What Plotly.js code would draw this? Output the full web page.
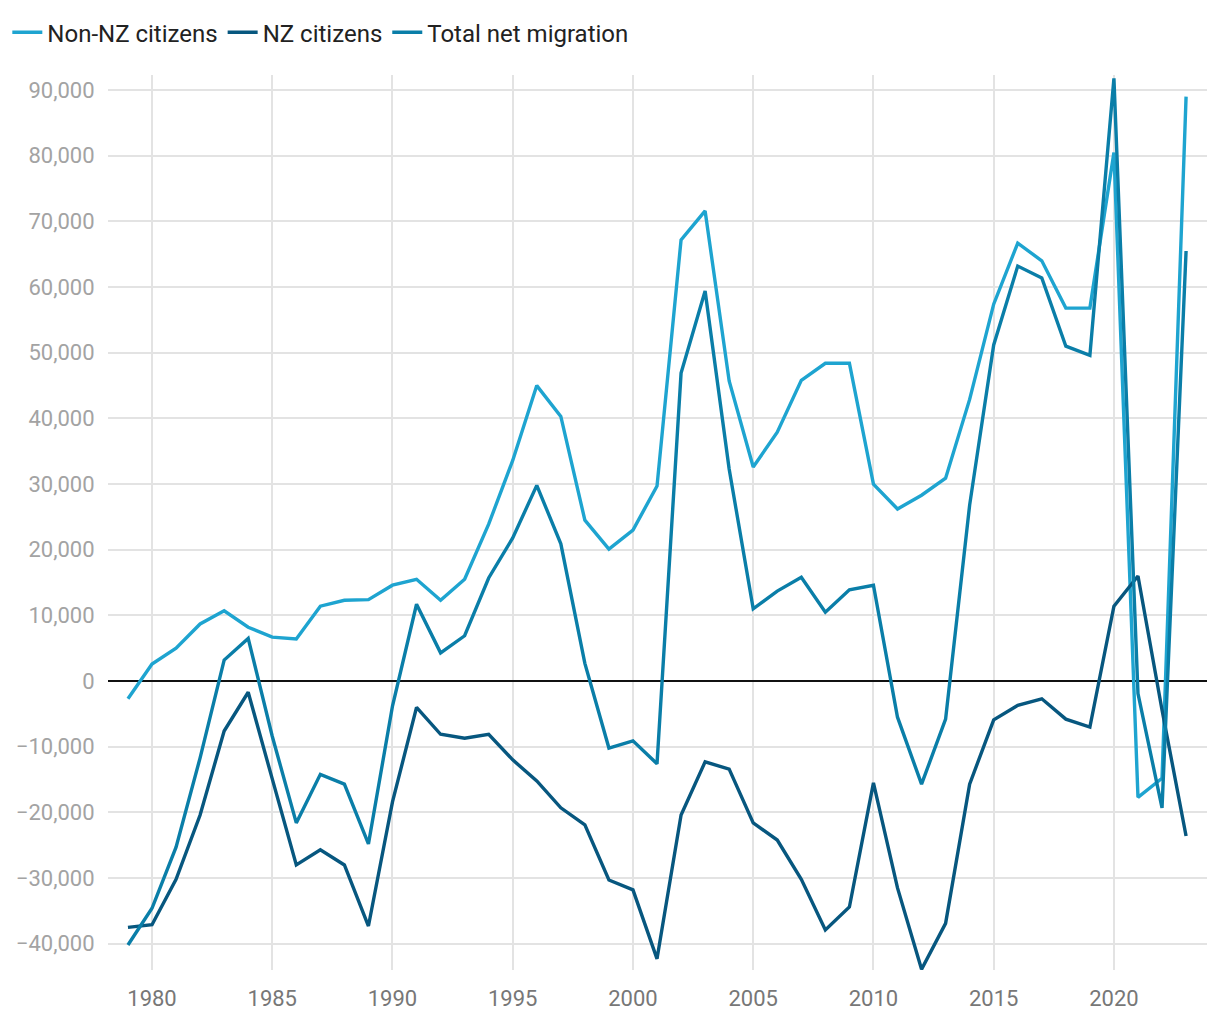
<!DOCTYPE html>
<html>
<head>
<meta charset="utf-8">
<script src="https://cdn.plot.ly/plotly-3.0.1.min.js"></script>
<style>html,body{margin:0;padding:0;background:#fff;}#chart{width:1220px;height:1020px;}</style>
</head>
<body>
<div id="chart"></div>
<script>
const years = [1979,1980,1981,1982,1983,1984,1985,1986,1987,1988,1989,1990,1991,1992,1993,1994,1995,1996,1997,1998,1999,2000,2001,2002,2003,2004,2005,2006,2007,2008,2009,2010,2011,2012,2013,2014,2015,2016,2017,2018,2019,2020,2021,2022,2023];

const nonNZ = [-2700,2600,5000,8700,10700,8200,6700,6400,11400,12300,12400,14600,15500,12300,15500,23900,33600,45000,40300,24500,20100,23000,29700,67200,71600,45700,32600,37900,45800,48400,48400,30000,26200,28300,30900,42900,57400,66700,64000,56800,56800,80500,-17700,-14800,89000];

const nzCitizens = [-37500,-37100,-30200,-20400,-7600,-1700,-14900,-28000,-25700,-28000,-37300,-18400,-4000,-8100,-8700,-8100,-12000,-15200,-19300,-21900,-30300,-31800,-42300,-20400,-12300,-13400,-21600,-24200,-30200,-37900,-34400,-15500,-31500,-43900,-36900,-15700,-5900,-3700,-2700,-5800,-7000,11400,16000,-4400,-23600];

const totalNet = [-40200,-34600,-25300,-11700,3200,6500,-8400,-21600,-14200,-15700,-24800,-3800,11700,4300,6900,15700,21800,29800,20900,2700,-10200,-9100,-12600,46900,59400,32300,11000,13700,15800,10500,13900,14600,-5500,-15700,-5800,26800,51200,63200,61400,51000,49600,91800,-1900,-19300,65500];

const seriesNames = ["Non-NZ citizens","NZ citizens","Total net migration"];
const seriesColors = ["#1ea4d0","#07577f","#0a7ea8"];
const seriesData = [nonNZ, nzCitizens, totalNet];

const traces = seriesData.map((d,i)=>({
  x: years, y: d, type: "scatter", mode: "lines",
  name: seriesNames[i],
  line: {color: seriesColors[i], width: 3.4}
}));

const layout = {
  width: 1220, height: 1020,
  margin: {l:108, r:13, t:75, b:50},
  paper_bgcolor: "#fff", plot_bgcolor: "#fff",
  font: {family: "Roboto, sans-serif", color: "#222"},
  showlegend: true,
  legend: {
    orientation: "h", xref: "container", yref: "container",
    x: 0.006, y: 0.99, xanchor: "left", yanchor: "top",
    font: {size: 24, color: "#222"},
    itemwidth: 30, tracegroupgap: 0
  },
  xaxis: {
    range: [1978.17, 2023.87],
    tickmode: "linear", tick0: 1980, dtick: 5,
    showgrid: true, gridcolor: "#e3e3e3", gridwidth: 2,
    zeroline: false, showline: false,
    ticks: "outside", ticklen: 9, tickcolor: "rgba(0,0,0,0)",
    tickfont: {size: 22, color: "#777"}
  },
  yaxis: {
    range: [-44000, 92300],
    tickmode: "linear", tick0: 0, dtick: 10000,
    tickformat: ",d",
    showgrid: true, gridcolor: "#e3e3e3", gridwidth: 2,
    zeroline: true, zerolinecolor: "#111", zerolinewidth: 1.5,
    showline: false,
    ticks: "outside", ticklen: 8, tickcolor: "rgba(0,0,0,0)",
    tickfont: {size: 22, color: "#a3a3a3"}
  }
};

Plotly.newPlot("chart", traces, layout, {displayModeBar: false, responsive: false});
</script>
</body>
</html>
